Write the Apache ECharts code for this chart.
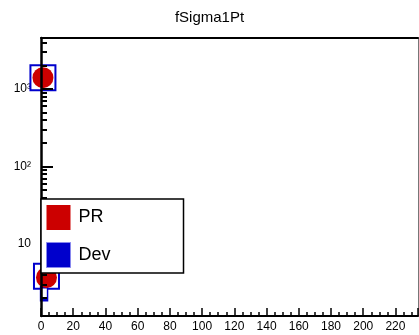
<!DOCTYPE html>
<html><head><meta charset="utf-8">
<script src="https://cdn.jsdelivr.net/npm/echarts@6/dist/echarts.min.js"></script>
<style>html,body{margin:0;padding:0;background:#fff}#c{width:419px;height:335px}</style>
</head><body><div id="c"></div>
<script>
var title = 'fSigma1Pt';
var seriesNames = ['PR', 'Dev'];
var prPoints = [[1.2, 1400], [3.4, 3.7]];
var devPoints = [[1.2, 1400], [3.4, 3.85]];
var devSmallPoints = [[1.9, 2.3]];
var xMin = 0, xMax = 234;
var yMin = 1.18, yMax = 4550;
var yMajor = [10, 100, 1000];
var yMajorLabels = ['10', '10²', '10³'];
var yMinor = [2,3,4,5,6,7,8,9,20,30,40,50,60,70,80,90,200,300,400,500,600,700,800,900,2000,3000,4000];

var font = 'Liberation Sans, Arial, sans-serif';
var chart = echarts.init(document.getElementById('c'));
var grid = {left: 41, top: 38, right: 1, bottom: 19};
var yBase = {type: 'log', logBase: 10, min: yMin, max: yMax, splitLine: {show: false}, gridIndex: 0};
chart.setOption({
  animation: false,
  title: {text: title, left: 'center', top: 5, textStyle: {fontFamily: font, fontSize: 15, fontWeight: 'normal', color: '#000'}},
  grid: grid,
  legend: {
    orient: 'vertical', left: 41, top: 199,
    itemWidth: 24, itemHeight: 25, itemGap: 12,
    padding: [6, 73, 5, 5],
    backgroundColor: '#fff', borderColor: '#000', borderWidth: 1.5,
    textStyle: {fontFamily: font, fontSize: 18, color: '#000', padding: [0, 0, 0, 3]},
    data: [
      {name: 'PR', icon: 'rect', itemStyle: {color: '#cc0000', borderWidth: 0}},
      {name: 'Dev', icon: 'rect', itemStyle: {color: '#0000cc', borderColor: '#8888ee', borderWidth: 1}}
    ]
  },
  xAxis: [
    {type: 'value', min: xMin, max: xMax, interval: 20, position: 'bottom', z: 3,
     axisLine: {lineStyle: {color: '#000', width: 2}},
     axisTick: {inside: true, length: 8, lineStyle: {color: '#000', width: 1.5}},
     minorTick: {show: true, splitNumber: 4, length: 4, lineStyle: {color: '#000', width: 1.5}},
     axisLabel: {fontFamily: font, fontSize: 12, color: '#000', margin: 5, showMaxLabel: false},
     splitLine: {show: false}},
    {type: 'value', min: xMin, max: xMax, position: 'top', z: 3,
     axisLine: {onZero: false, lineStyle: {color: '#000', width: 2}},
     axisTick: {show: false}, axisLabel: {show: false}, splitLine: {show: false}}
  ],
  yAxis: [
    Object.assign({}, yBase, {position: 'left', z: 0,
      axisLine: {show: false}, axisTick: {show: false},
      axisLabel: {customValues: yMajor, fontFamily: font, fontSize: 12, color: '#000', margin: 10,
        formatter: function (v) { var i = yMajor.indexOf(Math.round(v)); return i >= 0 ? yMajorLabels[i] : ''; }}}),
    Object.assign({}, yBase, {position: 'left', z: 3,
      axisLine: {show: true, onZero: false, lineStyle: {color: '#000', width: 2.5}},
      axisTick: {inside: true, customValues: yMajor, length: 12, lineStyle: {color: '#000', width: 2}},
      axisLabel: {show: false}}),
    Object.assign({}, yBase, {position: 'left', z: 3,
      axisLine: {show: false},
      axisTick: {inside: true, customValues: yMinor, length: 6, lineStyle: {color: '#000', width: 2}},
      axisLabel: {show: false}}),
    Object.assign({}, yBase, {position: 'right', z: 3,
      axisLine: {show: true, onZero: false, lineStyle: {color: '#777', width: 1}},
      axisTick: {show: false}, axisLabel: {show: false}})
  ],
  series: [
    {name: 'Dev', type: 'scatter', data: devPoints, symbol: 'rect', symbolSize: 25, z: 2,
     itemStyle: {color: '#fff', borderColor: '#0000cc', borderWidth: 2, opacity: 1}},
    {name: 'Dev', type: 'scatter', data: devSmallPoints, symbol: 'rect', symbolSize: [7, 13], z: 2,
     itemStyle: {color: '#fff', borderColor: '#0000cc', borderWidth: 2, opacity: 1}},
    {name: 'PR', type: 'scatter', data: prPoints, symbol: 'circle', symbolSize: 21, z: 2,
     itemStyle: {color: '#cc0000', opacity: 1}}
  ]
});
</script></body></html>
